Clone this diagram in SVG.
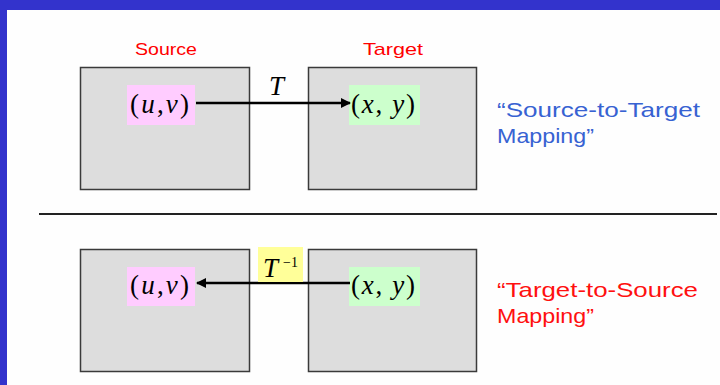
<svg xmlns="http://www.w3.org/2000/svg" width="720" height="385" viewBox="0 0 720 385">
  <style>
    .frame { fill: #3333CC; }
    .panel { fill: #DDDDDD; stroke: #3a3a3a; stroke-width: 1.5; }
    .hdr { font-family: "Comic Sans MS", "Liberation Sans", sans-serif; font-size: 17px; fill: #FF0000; }
    .math { font-family: "Liberation Serif", "Times New Roman", serif; font-size: 27px; fill: #000; }
    .sup { font-size: 14px; }
    .it { font-style: italic; }
    .note { font-family: "Comic Sans MS", "Liberation Sans", sans-serif; font-size: 21px; }
    .blue { fill: #3762D2; }
    .red { fill: #FF1010; }
    .conn { stroke: #000; stroke-width: 2.6; fill: none; }
  </style>
  <defs>
    <marker id="head" markerWidth="10" markerHeight="10" refX="9" refY="5" orient="auto" markerUnits="userSpaceOnUse">
      <path d="M0,0 L10,5 L0,10 Z" fill="#000"/>
    </marker>
  </defs>

  <!-- page -->
  <rect x="0" y="0" width="720" height="385" fill="#FEFEFE"/>
  <rect class="frame" x="0" y="0" width="720" height="10"/>
  <rect class="frame" x="0" y="0" width="7" height="385"/>

  <!-- column headers -->
  <text class="hdr" x="135" y="55" textLength="62" lengthAdjust="spacingAndGlyphs">Source</text>
  <text class="hdr" x="363" y="55" textLength="60" lengthAdjust="spacingAndGlyphs">Target</text>

  <!-- divider -->
  <line x1="39" y1="214" x2="717" y2="214" stroke="#222" stroke-width="2"/>

  <!-- forward mapping panels -->
  <g id="src-top">
    <rect class="panel" x="80.5" y="67.5" width="169" height="122"/>
    <rect x="127" y="85" width="68" height="40" fill="#FFCCFF"/>
    <text class="math" x="130" y="113" textLength="59" lengthAdjust="spacing">(<tspan class="it">u</tspan>,<tspan class="it">v</tspan>)</text>
  </g>
  <g id="tgt-top">
    <rect class="panel" x="308.5" y="67.5" width="168" height="122"/>
    <rect x="349" y="85" width="71" height="40" fill="#CCFFCC"/>
    <text class="math" x="351" y="113" textLength="64" lengthAdjust="spacing">(<tspan class="it">x</tspan>, <tspan class="it">y</tspan>)</text>
  </g>

  <!-- inverse mapping panels -->
  <g id="src-bottom">
    <rect class="panel" x="80.5" y="249.5" width="169" height="122"/>
    <rect x="127" y="267" width="68" height="39" fill="#FFCCFF"/>
    <text class="math" x="130" y="294" textLength="59" lengthAdjust="spacing">(<tspan class="it">u</tspan>,<tspan class="it">v</tspan>)</text>
  </g>
  <g id="tgt-bottom">
    <rect class="panel" x="308.5" y="249.5" width="168" height="122"/>
    <rect x="349" y="267" width="71" height="39" fill="#CCFFCC"/>
    <text class="math" x="351" y="294" textLength="64" lengthAdjust="spacing">(<tspan class="it">x</tspan>, <tspan class="it">y</tspan>)</text>
  </g>

  <!-- connectors -->
  <g id="connectors">
    <line class="conn" x1="196" y1="103" x2="350" y2="103" marker-end="url(#head)"/>
    <line class="conn" x1="350" y1="283" x2="197" y2="283" marker-end="url(#head)"/>
  </g>

  <!-- transform labels -->
  <g id="label-T">
    <text class="math it" x="269" y="95">T</text>
  </g>
  <g id="label-Tinv">
    <rect x="258" y="247" width="45" height="35" fill="#FFFF99"/>
    <text class="math it" x="263" y="277">T</text>
    <text class="math sup" x="283" y="267">−1</text>
  </g>

  <!-- notes -->
  <g id="note-forward">
    <text class="note blue" x="497" y="117" textLength="203" lengthAdjust="spacingAndGlyphs">“Source-to-Target</text>
    <text class="note blue" x="497" y="143" textLength="97" lengthAdjust="spacingAndGlyphs">Mapping”</text>
  </g>
  <g id="note-inverse">
    <text class="note red" x="497" y="297" textLength="201" lengthAdjust="spacingAndGlyphs">“Target-to-Source</text>
    <text class="note red" x="497" y="323" textLength="97" lengthAdjust="spacingAndGlyphs">Mapping”</text>
  </g>
</svg>
